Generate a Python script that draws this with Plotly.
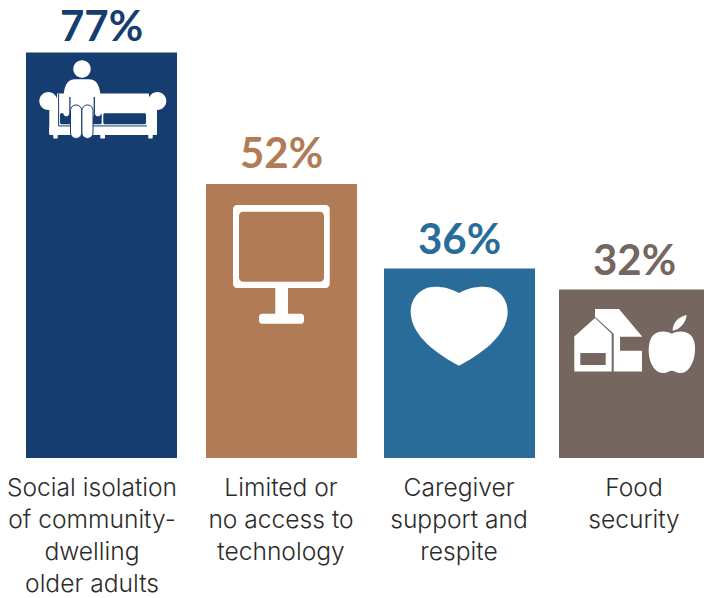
import re
import plotly.graph_objects as go

categories = ["Social isolation<br>of community-<br>dwelling<br>older adults",
              "Limited or<br>no access to<br>technology",
              "Caregiver<br>support and<br>respite",
              "Food<br>security"]
values = [77, 52, 36, 32]
value_labels = ["77%", "52%", "36%", "32%"]
bar_colors = ["#153d6f", "#b17c55", "#2a6c99", "#75665f"]
bar_centers = [101.5, 281.5, 459.5, 634.5]
label_centers = [92, 281, 459, 634]

BAR_WIDTH = 151
WIDTH, HEIGHT = 704, 598
PLOT_BOTTOM = 458.5
PX_PER_PERCENT = 5.273
WHITE = "#ffffff"
K = 0.5523


def circle(cx, cy, r):
    d = r * K
    return (f"M{cx - r},{cy} C{cx - r},{cy - d} {cx - d},{cy - r} {cx},{cy - r} "
            f"C{cx + d},{cy - r} {cx + r},{cy - d} {cx + r},{cy} "
            f"C{cx + r},{cy + d} {cx + d},{cy + r} {cx},{cy + r} "
            f"C{cx - d},{cy + r} {cx - r},{cy + d} {cx - r},{cy} Z")


def rrect(x0, y0, x1, y1, r):
    d = r * (1 - K)
    return (f"M{x0 + r},{y0} L{x1 - r},{y0} C{x1 - d},{y0} {x1},{y0 + d} {x1},{y0 + r} "
            f"L{x1},{y1 - r} C{x1},{y1 - d} {x1 - d},{y1} {x1 - r},{y1} "
            f"L{x0 + r},{y1} C{x0 + d},{y1} {x0},{y1 - d} {x0},{y1 - r} "
            f"L{x0},{y0 + r} C{x0},{y0 + d} {x0 + d},{y0} {x0 + r},{y0} Z")


# Icon outlines are written in page pixels (y down) for readability.
# Each one is anchored to the top centre of its bar and stored as a pixel offset.
def icon_shape(bar, path, fill=WHITE, line=None, line_width=0):
    ox = bar_centers[bar]
    oy = PLOT_BOTTOM - values[bar] * PX_PER_PERCENT

    def to_offset(m):
        return f"{float(m[1]) - ox:.2f},{oy - float(m[2]):.2f}"

    local = re.sub(r"(-?[\d.]+),(-?[\d.]+)", to_offset, path)
    return dict(type="path", path=local, xref="x", yref="y",
                xsizemode="pixel", ysizemode="pixel",
                xanchor=bar_centers[bar], yanchor=values[bar],
                fillcolor=fill,
                line=dict(color=line or fill, width=line_width))


navy, tan, blue, taupe = bar_colors
shapes = []

# Sofa with a seated figure
sofa_white = [
    circle(48.3, 101, 9), circle(157.3, 101, 9),
    rrect(49.3, 101, 59.3, 135, 1), rrect(148, 101, 157, 135, 1),
    rrect(57, 93.5, 149, 128, 1), rrect(49.3, 126, 157, 135, 2),
    rrect(53.3, 134, 57.7, 138.5, 0.5), rrect(100.3, 134, 105, 138.5, 0.5),
    rrect(148.3, 134, 152.7, 138.5, 0.5),
]
shapes += [icon_shape(0, p) for p in sofa_white]
for p in [rrect(60, 113.3, 101.7, 124.3, 1.5), rrect(103.3, 113.3, 146, 124.3, 1.5)]:
    shapes.append(icon_shape(0, p, fill=navy))
for p in ["M58.6,94 L58.6,126 L147,126"]:
    shapes.append(dict(icon_shape(0, p, fill=navy, line_width=1), fillcolor="rgba(0,0,0,0)"))
shapes.append(icon_shape(0, circle(82, 69, 8.7)))
shapes.append(icon_shape(0, "M63.3,113 C63.3,96 62.5,79.3 75,79.3 L89,79.3 C101.5,79.3 101,96 101,113 "
                            "C101,117.5 95,117.5 95,113 L92.7,118 L70.7,118 L69.3,113 "
                            "C69.3,117.5 63.3,117.5 63.3,113 Z"))
for p in ["M69.9,97 L69.9,118", "M94.3,97 L94.3,118"]:
    shapes.append(dict(icon_shape(0, p, fill=navy, line_width=1.3), fillcolor="rgba(0,0,0,0)"))
for p in [rrect(70.5, 105, 81.7, 138.5, 5.5), rrect(81.9, 105, 93, 138.5, 5.5)]:
    shapes.append(icon_shape(0, p, line=navy, line_width=1))

# Computer monitor
shapes.append(icon_shape(1, rrect(233, 205.3, 329.7, 288.3, 4) + " " + rrect(239, 212, 324, 282, 4)))
shapes.append(icon_shape(1, rrect(275.3, 287, 288, 316, 0.5)))
shapes.append(icon_shape(1, rrect(259, 314, 304, 324, 3)))

# Heart
shapes.append(icon_shape(2, "M459,293.3 C451,289 444,287 435,287 C421,287 410.7,298 410.7,312 "
                            "C410.7,337 440,356 459,366 C478,356 507.7,337 507.7,312 "
                            "C507.7,298 497,287 483.5,287 C474,287 467,289 459,293.3 Z"))

# Grocery buildings and apple
shapes.append(icon_shape(3, "M574.3,336.7 L595,318.3 L611.7,334 L611.7,371.7 L574.3,371.7 Z "
                            "M580.3,353.3 L605.7,353.3 L605.7,365.3 L580.3,365.3 Z"))
shapes.append(icon_shape(3, "M595,309.3 L619,309.3 L642.3,337 L620,337 L620,351 L642,351 L642,371.7 "
                            "L613.7,371.7 L613.7,334 L595,317 Z"))
shapes.append(icon_shape(3, "M671.7,334 C664,330 652,330.5 649.5,343 C646.5,356 652,373 663,373.3 "
                            "C667,373.5 669,371 671.7,371 C674.5,371 677,373.5 681,373.3 "
                            "C691,373 697,356 694.5,343 C692,330.5 679,330 671.7,334 Z"))
shapes.append(icon_shape(3, "M672.5,331 C673,322 679,317 686.7,315.3 C686,323 680,330 672.5,331 Z"))

annotations = [
    dict(x=c, y=v, text=t, xref="x", yref="y", xanchor="center", yanchor="bottom",
         yshift=s, showarrow=False,
         font=dict(family="Lato", size=42, color=col, weight=700))
    for c, v, t, col, s in zip(bar_centers, values, value_labels, bar_colors, [0, 5, 3, 3])
]

fig = go.Figure(go.Bar(
    x=bar_centers, y=values, width=BAR_WIDTH,
    marker=dict(color=bar_colors, line=dict(width=0)),
    hoverinfo="skip",
))

fig.update_layout(
    width=WIDTH, height=HEIGHT,
    margin=dict(l=0, r=0, t=0, b=HEIGHT - PLOT_BOTTOM, pad=0),
    paper_bgcolor=WHITE, plot_bgcolor=WHITE,
    showlegend=False,
    shapes=shapes,
    annotations=annotations,
    xaxis=dict(range=[0, WIDTH], tickmode="array", tickvals=label_centers,
               ticktext=categories, tickangle=0, ticks="", showline=False,
               showgrid=False, zeroline=False, ticklabelstandoff=12,
               tickfont=dict(family="Inter", size=24.6, color="#2b2b2b", weight=300)),
    yaxis=dict(range=[0, PLOT_BOTTOM / PX_PER_PERCENT], visible=False),
)

fig.write_html("out.html")
